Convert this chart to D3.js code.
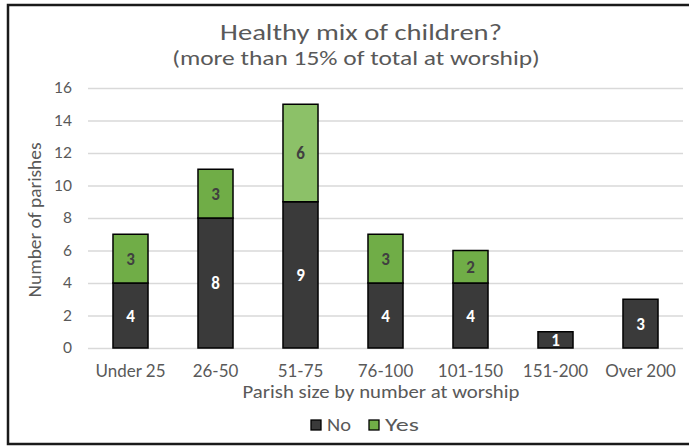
<!DOCTYPE html>
<html><head><meta charset="utf-8">
<script src="https://cdn.jsdelivr.net/npm/d3@7"></script>
<style>
html,body{margin:0;padding:0;background:#fff;}
svg text{font-family:Carlito,Calibri,Lato,sans-serif;}
</style></head>
<body><svg id="chart" width="689" height="446"></svg>
<script>
const categories = ["Under 25","26-50","51-75","76-100","101-150","151-200","Over 200"];
const noValues  = [4, 8, 9, 4, 4, 1, 3];
const yesValues = [3, 3, 6, 3, 2, 0, 0];
const seriesNames = ["No","Yes"];
const yTicks = [0,2,4,6,8,10,12,14,16];
const titleText = "Healthy mix of children?";
const subtitleText = "(more than 15% of total at worship)";
const xTitle = "Parish size by number at worship";
const yTitle = "Number of parishes";

const svg = d3.select("#chart");
const W = 689, H = 446;
const plot = {left: 88, right: 683, top: 88, bottom: 348};
const textColor = "#595959";

svg.append("rect").attr("x",8).attr("y",5).attr("width",W).attr("height",439)
  .attr("fill","#fff").attr("stroke","#1a1a1a").attr("stroke-width",2.5);

function fitText(g, txt, size, cx, cy, targetW, opts={}) {
  const t = g.append("text").attr("fill", opts.fill || textColor)
    .attr("text-anchor", opts.anchor || "middle")
    .style("font-size", size+"px").text(txt);
  const w = t.node().getComputedTextLength();
  const s = targetW ? targetW / w : 1;
  const rot = opts.rotate ? ` rotate(${opts.rotate})` : "";
  t.attr("transform", `translate(${cx},${cy})${rot} scale(${s},1)`);
  return t;
}

const x = d3.scaleBand().domain(categories).range([plot.left, plot.right]).paddingInner(0.588).paddingOuter(0.294);
const y = d3.scaleLinear().domain([0,16]).range([plot.bottom, plot.top]);

svg.append("g").selectAll("line").data(yTicks).join("line")
  .attr("x1",plot.left).attr("x2",plot.right)
  .attr("y1",d=>y(d)+0.5).attr("y2",d=>y(d)+0.5)
  .attr("stroke","#d9d9d9").attr("stroke-width",1.3);

const yAxis = d3.axisLeft(y).tickValues(yTicks).tickSize(0).tickPadding(0);
const gy = svg.append("g").attr("transform",`translate(${72},0)`).call(yAxis);
gy.select(".domain").remove();
gy.selectAll("text").attr("fill",textColor).style("font-size","15.5px").style("font-family","Lato,sans-serif");

const xAxis = d3.axisBottom(x).tickSize(0).tickPadding(0);
const gx = svg.append("g").attr("transform",`translate(0,${plot.bottom})`).call(xAxis);
gx.select(".domain").remove();
const xt = gx.selectAll("text").attr("fill",textColor).style("font-size","16.5px")
  .style("font-family","Lato,sans-serif").attr("y",0).attr("dy",null);
const refW = xt.filter(d=>d==="Under 25").node().getComputedTextLength();
const xs = 70 / refW;
xt.attr("transform",`translate(0,${23}) scale(${xs},1)`).attr("dy","0.35em");

const data = categories.map((c,i)=>({cat:c, No:noValues[i], Yes:yesValues[i]}));
const stack = d3.stack().keys(seriesNames)(data);
const colorNo = "#3a3a3a", colorYes = "#70ad47", colorYesLight = "#8cc168";

stack.forEach(layer=>{
  const g = svg.append("g");
  layer.forEach((d,i)=>{
    const v = d[1]-d[0];
    if (v<=0) return;
    let fill = layer.key==="No" ? colorNo : (categories[i]==="51-75" ? colorYesLight : colorYes);
    g.append("rect").attr("x",x(categories[i])).attr("width",x.bandwidth())
      .attr("y",y(d[1])).attr("height",y(d[0])-y(d[1]))
      .attr("fill",fill).attr("stroke","#000").attr("stroke-width",1.5);
    g.append("text").attr("x",x(categories[i])+x.bandwidth()/2)
      .attr("y",(y(d[0])+y(d[1]))/2).attr("dy","0.36em")
      .attr("text-anchor","middle").attr("font-weight","bold").style("font-size","17px")
      .attr("fill",layer.key==="No" ? "#ffffff" : "#404040").text(v);
  });
});

const tg = svg.append("g");
fitText(tg, titleText, 22.5, 361, 40, 282);
fitText(tg, subtitleText, 21, 356, 65, 368);
fitText(tg, xTitle, 18, 381, 398, 277);
fitText(tg, yTitle, 18, 41, 220, 155, {rotate:-90});

const leg = svg.append("g");
const legItems = [{name:"No",color:colorNo,x:311,w:24},{name:"Yes",color:colorYes,x:369,w:34}];
legItems.forEach(it=>{
  leg.append("rect").attr("x",it.x).attr("y",420).attr("width",10).attr("height",10)
    .attr("fill",it.color).attr("stroke","#000").attr("stroke-width",1.3);
  fitText(leg, it.name, 18, it.x+16, 431, it.w, {anchor:"start"});
});
</script></body></html>
